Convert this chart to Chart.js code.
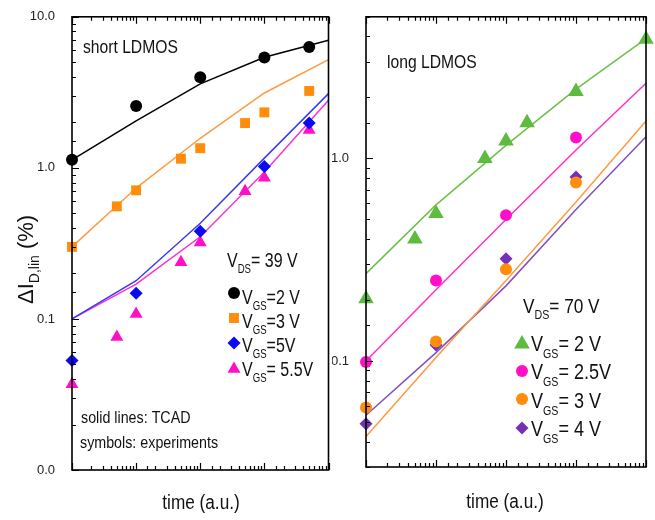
<!DOCTYPE html>
<html>
<head>
<meta charset="utf-8">
<script src="https://cdn.jsdelivr.net/npm/chart.js@4/dist/chart.umd.min.js"></script>
<style>
body { margin: 0; background: #fff; width: 655px; height: 520px; overflow: hidden; position: relative; }
canvas { position: absolute; top: 0; }
#cL { left: 0; }
#cR { left: 332px; }
</style>
</head>
<body>
<canvas id="cL" width="336" height="520"></canvas>
<canvas id="cR" width="323" height="520"></canvas>
<script>
// short LDMOS, VDS = 39 V  (time in a.u., degradation in %)
const tcadTimeS = [1, 10, 100, 1000, 10000];
const tcadS2V  = [1.13, 2.05, 3.6, 5.4, 7.0];
const tcadS3V  = [0.30, 0.735, 1.57, 3.13, 5.2];
const tcadS5V  = [0.10, 0.179, 0.43, 1.16, 3.1];
const tcadS55V = [0.10, 0.17, 0.35, 0.94, 2.8];

const expTimeS2V = [1, 10, 100, 1000, 5000];
const expS2V     = [1.13, 2.57, 3.98, 5.37, 6.3];
const expTimeS3V = [1, 5, 10, 50, 100, 500, 1000, 5000];
const expS3V     = [0.30, 0.556, 0.71, 1.15, 1.35, 1.98, 2.33, 3.23];
const expTimeS5V = [1, 10, 100, 1000, 5000];
const expS5V     = [0.053, 0.148, 0.38, 1.02, 1.98];
const expTimeS55V = [1, 5, 10, 50, 100, 500, 1000, 5000];
const expS55V     = [0.037, 0.076, 0.108, 0.237, 0.32, 0.70, 0.86, 1.78];

// long LDMOS, VDS = 70 V
const tcadTimeL = [1, 10, 100, 1000, 10000];
const tcadL2V  = [0.27, 0.59, 1.16, 2.2, 3.9];
const tcadL25V = [0.10, 0.225, 0.50, 1.1, 2.35];
const tcadL3V  = [0.0424, 0.104, 0.25, 0.61, 1.53];
const tcadL4V  = [0.054, 0.11, 0.235, 0.56, 1.28];

const expTimeL2V = [1, 5, 10, 50, 100, 200, 1000, 10000];
const expL2V     = [0.203, 0.40, 0.535, 1.0, 1.22, 1.5, 2.14, 3.87];
const expTimeL   = [1, 10, 100, 1000];
const expL25V    = [0.099, 0.25, 0.525, 1.27];
const expL3V     = [0.059, 0.125, 0.284, 0.76];
const expL4V     = [0.049, 0.12, 0.32, 0.81];

const FONT = "'Liberation Sans', Arial, sans-serif";

function pts(xs, ys) {
  return xs.map((x, i) => ({ x: x, y: ys[i] }));
}
function tcad(xs, ys, color) {
  return { data: pts(xs, ys), showLine: true, borderColor: color, borderWidth: 1.5,
           pointRadius: 0, pointHoverRadius: 0, fill: false, clip: false };
}
function marks(xs, ys, color, style, r) {
  return { data: pts(xs, ys), showLine: false, pointStyle: style, pointRadius: r,
           backgroundColor: color, borderColor: color, pointBorderWidth: 0, clip: false };
}
function isDecade(v) {
  const l = Math.log10(v);
  return Math.abs(l - Math.round(l)) < 1e-9;
}

// text with subscripts, squeezed horizontally like the original figure
function rich(ctx, x, y, parts, sx) {
  ctx.save();
  ctx.translate(x, y);
  ctx.scale(sx, 1);
  ctx.fillStyle = '#111';
  ctx.textBaseline = 'alphabetic';
  ctx.textAlign = 'left';
  let cx = 0;
  for (const [s, size, dy] of parts) {
    ctx.font = size + 'px ' + FONT;
    ctx.fillText(s, cx, dy || 0);
    cx += ctx.measureText(s).width;
  }
  ctx.restore();
  return cx * sx;
}

function marker(ctx, style, r, x, y) {
  if (Chart.helpers && Chart.helpers.drawPoint) {
    Chart.helpers.drawPoint(ctx, { pointStyle: style, radius: r, rotation: 0, borderWidth: 0 }, x, y);
    return;
  }
  ctx.beginPath();
  if (style === 'circle') ctx.arc(x, y, r, 0, 2 * Math.PI);
  else if (style === 'rect') { const s = r * Math.SQRT1_2; ctx.rect(x - s, y - s, 2 * s, 2 * s); }
  else if (style === 'rectRot') { ctx.moveTo(x - r, y); ctx.lineTo(x, y - r); ctx.lineTo(x + r, y); ctx.lineTo(x, y + r); }
  else { ctx.moveTo(x, y - r); ctx.lineTo(x + r * 0.866, y + r / 2); ctx.lineTo(x - r * 0.866, y + r / 2); }
  ctx.closePath();
  ctx.fill();
}

const deco = {
  id: 'deco',
  afterDraw(chart, args, opts) {
    const { ctx, chartArea: a } = chart;
    const xs = chart.scales.x, ys = chart.scales.y;
    ctx.save();
    ctx.strokeStyle = '#000';
    ctx.lineWidth = 1.2;
    ctx.beginPath();
    xs.ticks.forEach(t => {
      const px = Math.round(xs.getPixelForValue(t.value)) + 0.5;
      const len = isDecade(t.value) ? 7 : 4;
      ctx.moveTo(px, a.bottom); ctx.lineTo(px, a.bottom - len);
      ctx.moveTo(px, a.top); ctx.lineTo(px, a.top + len);
    });
    ys.ticks.forEach(t => {
      const py = Math.round(ys.getPixelForValue(t.value)) + 0.5;
      const len = isDecade(t.value) ? 7 : 4;
      ctx.moveTo(a.left, py); ctx.lineTo(a.left + len, py);
    });
    ctx.stroke();
    ctx.lineWidth = 1.6;
    ctx.strokeRect(a.left, a.top, a.right - a.left, a.bottom - a.top);

    // free texts
    (opts.texts || []).forEach(t => {
      let x = t.x;
      if (t.center) {
        let w = 0;
        t.parts.forEach(p => { ctx.font = p[1] + 'px ' + FONT; w += ctx.measureText(p[0]).width; });
        x = t.x - w * t.sx / 2;
      }
      rich(ctx, x, t.y, t.parts, t.sx);
    });

    // legend rows: marker taken from the dataset + label
    (opts.legend || []).forEach(row => {
      const ds = chart.data.datasets[row.ds];
      ctx.fillStyle = ds.backgroundColor;
      ctx.strokeStyle = ds.backgroundColor;
      marker(ctx, ds.pointStyle, ds.pointRadius, row.mx, row.my);
      rich(ctx, row.tx, row.ty, row.parts, row.sx);
    });

    // rotated y title
    if (opts.ytitle) {
      const t = opts.ytitle;
      ctx.translate(t.x, t.y);
      ctx.rotate(-Math.PI / 2);
      rich(ctx, 0, 0, t.parts, t.sx);
    }
    ctx.restore();
  }
};

function makeOptions(yMin, yMax, yWidth, xHeight, pad, plugOpts) {
  return {
    responsive: false,
    animation: false,
    events: [],
    layout: { padding: pad },
    scales: {
      x: {
        type: 'logarithmic', min: 1, max: 10000,
        grid: { display: false }, border: { display: false },
        ticks: { display: false },
        afterFit: s => { s.height = xHeight; }
      },
      y: {
        type: 'logarithmic', min: yMin, max: yMax,
        grid: { display: false }, border: { display: false },
        ticks: {
          autoSkip: false, padding: 9, color: '#222',
          font: { family: FONT, size: 13 },
          callback: v => isDecade(v) ? v.toFixed(1) : ''
        },
        afterFit: s => { s.width = yWidth; }
      }
    },
    plugins: { legend: { display: false }, tooltip: { enabled: false }, deco: plugOpts }
  };
}

const cBlack = '#000000', cOrange = '#FF8C0A', cOrangeLine = '#FF9A40';
const cBlue = '#0A0AF0', cBlueLine = '#3A3AF5', cPink = '#FF10C8', cPinkLine = '#FF30D0';
const cGreen = '#5DBB3F', cGreenLine = '#6CC04A', cPurple = '#7530B8', cPurpleLine = '#8050C0';

const sub = (a, s, b, big, small, dy) => [[a, big], [s, small, dy], [b, big]];

new Chart(document.getElementById('cL'), {
  type: 'scatter',
  plugins: [deco],
  data: {
    datasets: [
      marks(expTimeS2V, expS2V, cBlack, 'circle', 6),
      marks(expTimeS3V, expS3V, cOrange, 'rect', 7),
      marks(expTimeS5V, expS5V, cBlue, 'rectRot', 6.5),
      marks(expTimeS55V, expS55V, cPink, 'triangle', 7.5),
      tcad(tcadTimeS, tcadS2V, cBlack),
      tcad(tcadTimeS, tcadS3V, cOrangeLine),
      tcad(tcadTimeS, tcadS5V, cBlueLine),
      tcad(tcadTimeS, tcadS55V, cPinkLine)
    ]
  },
  options: makeOptions(0.01, 10, 72, 50, { top: 11, right: 6, left: 0, bottom: 0 }, {
    texts: [
      { x: 83, y: 53, sx: 0.87, parts: [['short LDMOS', 18]] },
      { x: 81, y: 423, sx: 0.84, parts: [['solid lines: TCAD', 17]] },
      { x: 80, y: 448, sx: 0.84, parts: [['symbols: experiments', 17]] },
      { x: 227, y: 267, sx: 0.8, parts: sub('V', 'DS', '= 39 V', 20, 12, 6) },
      { x: 201, y: 509, sx: 0.86, center: true, parts: [['time (a.u.)', 20]] }
    ],
    legend: [
      { ds: 0, mx: 234, my: 293, tx: 242, ty: 304, sx: 0.8, parts: sub('V', 'GS', '=2 V', 20, 12, 6) },
      { ds: 1, mx: 234, my: 318, tx: 242, ty: 328, sx: 0.8, parts: sub('V', 'GS', '=3 V', 20, 12, 6) },
      { ds: 2, mx: 234, my: 343, tx: 242, ty: 352, sx: 0.8, parts: sub('V', 'GS', '=5V', 20, 12, 6) },
      { ds: 3, mx: 234, my: 369, tx: 242, ty: 376, sx: 0.8, parts: sub('V', 'GS', '= 5.5V', 20, 12, 6) }
    ],
    ytitle: { x: 33, y: 304, sx: 1, parts: [['\u0394I', 22], ['D,lin', 14, 6], [' (%)', 22]] }
  })
});

new Chart(document.getElementById('cR'), {
  type: 'scatter',
  plugins: [deco],
  data: {
    datasets: [
      marks(expTimeL2V, expL2V, cGreen, 'triangle', 9),
      marks(expTimeL, expL25V, cPink, 'circle', 6),
      marks(expTimeL, expL3V, cOrange, 'circle', 6),
      marks(expTimeL, expL4V, cPurple, 'rectRot', 6.5),
      tcad(tcadTimeL, tcadL2V, cGreenLine),
      tcad(tcadTimeL, tcadL25V, cPinkLine),
      tcad(tcadTimeL, tcadL3V, cOrangeLine),
      tcad(tcadTimeL, tcadL4V, cPurpleLine)
    ]
  },
  options: makeOptions(0.03, 5, 34, 53, { top: 9, right: 9, left: 0, bottom: 0 }, {
    texts: [
      { x: 55, y: 68, sx: 0.87, parts: [['long LDMOS', 18]] },
      { x: 191, y: 313, sx: 0.82, parts: sub('V', 'DS', '= 70 V', 21, 13, 6) },
      { x: 173, y: 508, sx: 0.86, center: true, parts: [['time (a.u.)', 20]] }
    ],
    legend: [
      { ds: 0, mx: 190, my: 344, tx: 199, ty: 351, sx: 0.82, parts: sub('V', 'GS', '= 2 V', 22, 13, 7) },
      { ds: 1, mx: 190, my: 371, tx: 199, ty: 379, sx: 0.82, parts: sub('V', 'GS', '= 2.5V', 22, 13, 7) },
      { ds: 2, mx: 190, my: 399, tx: 199, ty: 408, sx: 0.82, parts: sub('V', 'GS', '= 3 V', 22, 13, 7) },
      { ds: 3, mx: 190, my: 428, tx: 199, ty: 436, sx: 0.82, parts: sub('V', 'GS', '= 4 V', 22, 13, 7) }
    ]
  })
});
</script>
</body>
</html>
